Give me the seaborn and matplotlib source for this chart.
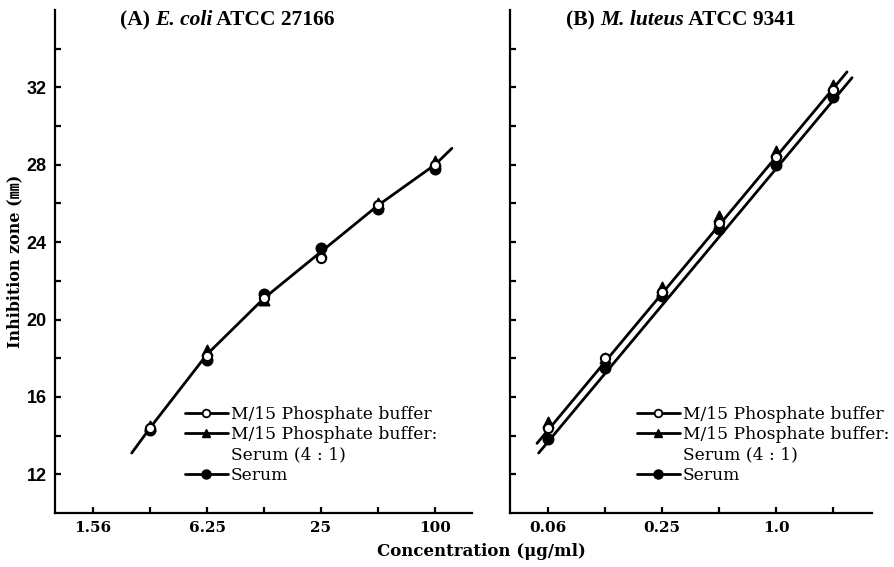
import matplotlib
matplotlib.use("Agg")
import matplotlib.pyplot as plt
import seaborn as sns
import numpy as np
from matplotlib.lines import Line2D

sns.set_theme(style="white")
plt.rcParams['font.family'] = ['DejaVu Serif', 'Noto Sans CJK JP']
plt.rcParams['text.color'] = 'black'
plt.rcParams['axes.labelcolor'] = 'black'
plt.rcParams['xtick.color'] = 'black'
plt.rcParams['ytick.color'] = 'black'

# ---------------- data ----------------
# Panel A: E. coli ATCC 27166
conc_a = [3.125, 6.25, 12.5, 25, 50, 100]
a_buffer = [14.4, 18.1, 21.1, 23.2, 25.9, 28.0]
a_mix = [14.5, 18.4, 21.0, 23.5, 26.0, 28.2]
a_serum = [14.3, 17.9, 21.3, 23.7, 25.7, 27.8]
fit_a_x = [2.5, 3.125, 6.25, 12.5, 25, 50, 100, 123]
fit_a_y = [13.1, 14.4, 18.2, 21.1, 23.5, 25.9, 28.0, 28.85]
xticks_a = [1.5625, 3.125, 6.25, 12.5, 25, 50, 100]
xlabels_a = ['1.56', '', '6.25', '', '25', '', '100']

# Panel B: M. luteus ATCC 9341
conc_b = [0.0625, 0.125, 0.25, 0.5, 1.0, 2.0]
b_buffer = [14.4, 18.0, 21.4, 25.0, 28.4, 31.85]
b_mix = [14.7, 18.0, 21.7, 25.35, 28.7, 32.1]
b_serum = [13.8, 17.5, 21.2, 24.7, 28.0, 31.5]
fit_b_upper_x = [0.0547, 2.37]
fit_b_upper_y = [13.6, 32.8]
fit_b_lower_x = [0.0558, 2.52]
fit_b_lower_y = [13.1, 32.5]
xticks_b = [0.0625, 0.125, 0.25, 0.5, 1.0, 2.0]
xlabels_b = ['0.06', '', '0.25', '', '1.0', '']

yticks = list(range(12, 36, 2))
ylabels = [str(v) if v % 4 == 0 else '' for v in yticks]

legend_labels = ["M/15 Phosphate buffer", "M/15 Phosphate buffer:", "Serum (4 : 1)", "Serum"]

# ---------------- figure ----------------
W, H = 894, 567
fig = plt.figure(figsize=(W / 100, H / 100), dpi=100)
axA = fig.add_axes([55 / W, 1 - 513 / H, (472 - 55) / W, (513 - 10) / H])
axB = fig.add_axes([510 / W, 1 - 513 / H, (872 - 510) / W, (513 - 10) / H])

ms = 55
for ax in (axA, axB):
    ax.set_xscale('log')
    ax.set_facecolor('white')
    for s in ('top', 'right'):
        ax.spines[s].set_visible(False)
    for s in ('left', 'bottom'):
        ax.spines[s].set_linewidth(1.6)
        ax.spines[s].set_color('black')
    ax.set_ylim(10, 36)
    ax.set_yticks(yticks)
    ax.minorticks_off()
    ax.tick_params(direction='in', length=4, width=1.6, colors='black', bottom=True, left=True, pad=6)
    ax.grid(False)

def draw_points(ax, x, yb, ym, ys):
    sns.scatterplot(x=x, y=ys, ax=ax, marker='o', color='black', edgecolor='black', s=ms, linewidth=1.2, zorder=3)
    sns.scatterplot(x=x, y=ym, ax=ax, marker='^', color='black', edgecolor='black', s=ms, linewidth=1.2, zorder=4)
    sns.scatterplot(x=x, y=yb, ax=ax, marker='o', color='white', edgecolor='black', s=ms * 0.8, linewidth=1.5, zorder=5)

# Panel A
sns.lineplot(x=fit_a_x, y=fit_a_y, ax=axA, color='black', lw=2, sort=False, estimator=None, zorder=2)
draw_points(axA, conc_a, a_buffer, a_mix, a_serum)
axA.set_xlim(0.983, 157)
axA.set_xticks(xticks_a)
axA.set_xticklabels(xlabels_a, fontweight='bold', family='DejaVu Serif', fontsize=11)
axA.set_yticklabels(ylabels, fontweight='bold', family='Liberation Sans', fontsize=13)
axA.set_ylabel("Inhibition zone (㎜)", fontweight='bold', fontsize=11.5,
               family=['DejaVu Serif', 'Noto Sans CJK JP'], labelpad=2)

# Panel B
sns.lineplot(x=fit_b_upper_x, y=fit_b_upper_y, ax=axB, color='black', lw=2, sort=False, estimator=None, zorder=2)
sns.lineplot(x=fit_b_lower_x, y=fit_b_lower_y, ax=axB, color='black', lw=2, sort=False, estimator=None, zorder=2)
draw_points(axB, conc_b, b_buffer, b_mix, b_serum)
axB.set_xlim(0.0394, 3.21)
axB.set_xticks(xticks_b)
axB.set_xticklabels(xlabels_b, fontweight='bold', family='DejaVu Serif', fontsize=11)
axB.set_yticklabels([''] * len(yticks))

def ax_frac_x(ax, px):
    pos = ax.get_position()
    return (px / W - pos.x0) / pos.width

def ax_frac_y(ax, py):
    pos = ax.get_position()
    return ((1 - py / H) - pos.y0) / pos.height

def make_leg_at(ax, px, py):
    handles = [
        Line2D([], [], color='black', lw=2, marker='o', mfc='white', mec='black', ms=5.5, mew=1.3),
        Line2D([], [], color='black', lw=2, marker='^', mfc='black', mec='black', ms=6),
        Line2D([], [], color='none'),
        Line2D([], [], color='black', lw=2, marker='o', mfc='black', mec='black', ms=6.5),
    ]
    ax.legend(handles, legend_labels, loc='upper left',
              bbox_to_anchor=(ax_frac_x(ax, px), ax_frac_y(ax, py)),
              frameon=False, handlelength=2.5, handletextpad=0.2, labelspacing=0.2,
              prop={'family': ['DejaVu Serif', 'Noto Sans CJK JP'], 'size': 12.3},
              borderaxespad=0.0, borderpad=0.0)

make_leg_at(axA, 185, 406)
make_leg_at(axB, 637, 406)

# Titles with italic species names
def title(ax, x, prefix, species, suffix):
    t1 = ax.text(x, 1.0, prefix, transform=ax.transAxes, ha='left', va='top',
                 fontweight='bold', family='Liberation Serif', fontsize=15.5)
    t2 = ax.annotate(species, xy=(1, 0), xycoords=t1, va='bottom', ha='left',
                     fontweight='bold', fontstyle='italic', family='Liberation Serif', fontsize=15.5)
    ax.annotate(suffix, xy=(1, 0), xycoords=t2, va='bottom', ha='left',
                fontweight='bold', family='Liberation Serif', fontsize=15.5)

title(axA, 0.155, "(A) ", "E. coli", " ATCC 27166")
title(axB, 0.155, "(B) ", "M. luteus", " ATCC 9341")

fig.text(481 / W, 1 - 551 / H, "Concentration (μg/ml)", ha='center', va='center',
         fontweight='bold', family='DejaVu Serif', fontsize=12)

fig.savefig("out.png", dpi=100, facecolor='white')
